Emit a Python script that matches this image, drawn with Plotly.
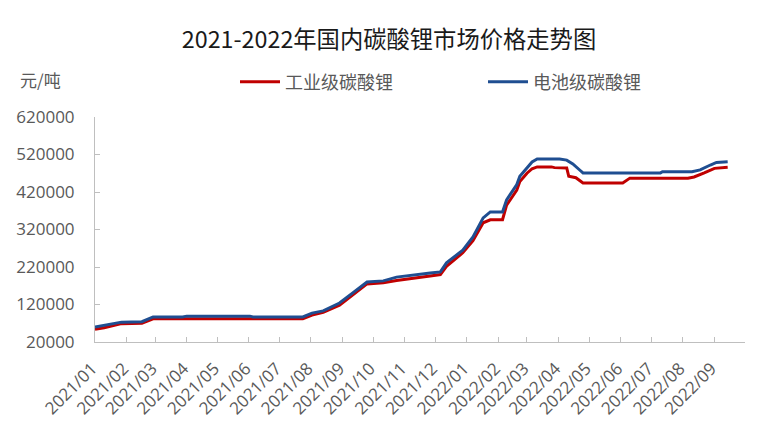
import plotly.graph_objects as go

# ---- data ----
battery_dates = [
    "2021-01-01", "2021-01-10", "2021-01-27", "2021-02-16", "2021-02-22", "2021-02-27",
    "2021-03-28", "2021-04-01", "2021-06-02", "2021-06-05", "2021-07-24", "2021-08-02",
    "2021-08-13", "2021-08-29", "2021-09-11", "2021-09-25", "2021-10-11", "2021-10-24",
    "2021-11-26", "2021-12-06", "2021-12-12", "2021-12-28", "2022-01-07", "2022-01-17",
    "2022-01-24", "2022-02-05", "2022-02-09", "2022-02-19", "2022-02-22", "2022-03-01",
    "2022-03-06", "2022-03-11", "2022-04-02", "2022-04-09", "2022-04-15", "2022-04-22",
    "2022-04-25", "2022-07-10", "2022-07-12", "2022-08-10", "2022-08-18", "2022-08-28",
    "2022-09-03", "2022-09-14",
]
battery_prices = [
    60000, 64000, 73000, 74000, 80000, 86700,
    87000, 89000, 89000, 86700, 87000, 97000,
    103000, 124000, 151000, 180000, 183000, 193000,
    204000, 207000, 231000, 265000, 300000, 351000,
    367000, 367000, 399000, 440000, 462000, 483000,
    500000, 508000, 508000, 505000, 495000, 478000,
    471000, 471000, 474000, 474000, 479000, 492000,
    499000, 501000,
]

industrial_dates = [
    "2021-01-01", "2021-01-10", "2021-01-27", "2021-02-16", "2021-02-27", "2021-07-24",
    "2021-08-02", "2021-08-13", "2021-08-29", "2021-09-11", "2021-09-25", "2021-10-11",
    "2021-10-24", "2021-11-26", "2021-12-06", "2021-12-12", "2021-12-28", "2022-01-07",
    "2022-01-17", "2022-01-24", "2022-02-05", "2022-02-09", "2022-02-19", "2022-02-22",
    "2022-03-01", "2022-03-06", "2022-03-11", "2022-03-25", "2022-03-28", "2022-04-09",
    "2022-04-11", "2022-04-18", "2022-04-25", "2022-06-03", "2022-06-10", "2022-08-06",
    "2022-08-12", "2022-08-22", "2022-09-01", "2022-09-14",
]
industrial_prices = [
    54000, 58000, 69000, 70000, 82000, 82000,
    92000, 99000, 118000, 145000, 175000, 178000,
    184000, 196000, 200000, 222000, 258000, 290000,
    338000, 346000, 346000, 385000, 425000, 448000,
    470000, 482000, 487000, 487000, 485000, 484000,
    462000, 458000, 444000, 444000, 457000, 457000,
    460000, 471000, 483000, 486000,
]

tick_dates = [
    "2021-01-01", "2021-02-01", "2021-03-01", "2021-04-01", "2021-05-01", "2021-06-01",
    "2021-07-01", "2021-08-01", "2021-09-01", "2021-10-01", "2021-11-01", "2021-12-01",
    "2022-01-01", "2022-02-01", "2022-03-01", "2022-04-01", "2022-05-01", "2022-06-01",
    "2022-07-01", "2022-08-01", "2022-09-01", "2022-10-01",
]
tick_labels = [
    "2021/01", "2021/02", "2021/03", "2021/04", "2021/05", "2021/06",
    "2021/07", "2021/08", "2021/09", "2021/10", "2021/11", "2021/12",
    "2022/01", "2022/02", "2022/03", "2022/04", "2022/05", "2022/06",
    "2022/07", "2022/08", "2022/09", "",
]

series_names = ["工业级碳酸锂", "电池级碳酸锂"]
title_text = "2021-2022年国内碳酸锂市场价格走势图"
unit_text = "元/吨"

FONT = "Microsoft YaHei, Noto Sans CJK SC, sans-serif"
TICKFONT = "Open Sans, Noto Sans CJK SC, sans-serif"
GRAY = "#595959"
AXIS = "#bfbfbf"
OFF = 8  # the page body adds an 8px margin
W, H = 782 - OFF, 442 - OFF


def fx(px):
    return (px - OFF) / W


def fy(py):
    return 1 - (py - OFF) / H


fig = go.Figure()
fig.add_trace(go.Scatter(x=industrial_dates, y=industrial_prices, mode="lines",
                         name=series_names[0], line=dict(color="#C00000", width=3)))
fig.add_trace(go.Scatter(x=battery_dates, y=battery_prices, mode="lines",
                         name=series_names[1], line=dict(color="#1F4E91", width=3)))

fig.update_layout(
    width=W, height=H,
    margin=dict(l=0, r=0, t=0, b=0),
    paper_bgcolor="white", plot_bgcolor="white",
    font=dict(family=FONT, color=GRAY),
    title=dict(text=title_text, x=fx(389), xanchor="center", y=fy(40), yanchor="middle",
               font=dict(family=FONT, size=23.3, color="#1a1a1a")),
    showlegend=True,
    legend=dict(orientation="h", x=fx(235), xanchor="left", y=fy(82),
                yanchor="middle", font=dict(family=FONT, size=18, color=GRAY),
                itemwidth=40, entrywidth=193, entrywidthmode="pixels",
                bgcolor="rgba(0,0,0,0)"),
    annotations=[dict(text=unit_text, xref="paper", yref="paper", x=fx(40),
                      xanchor="center", y=fy(80), yanchor="middle", showarrow=False,
                      font=dict(family=FONT, size=17, color=GRAY))],
)

fig.update_xaxes(
    type="date", range=["2021-01-01", "2022-10-01"], automargin=False,
    domain=[fx(95), fx(745)],
    tickmode="array", tickvals=tick_dates, ticktext=tick_labels, tickangle=-45,
    ticklabelstandoff=9, ticklabelshift=-3,
    ticks="inside", ticklen=5, tickcolor=AXIS, showline=True, linecolor=AXIS, linewidth=1,
    showgrid=False, zeroline=False, tickfont=dict(family=TICKFONT, size=17, color=GRAY),
)
fig.update_yaxes(
    range=[20000, 620000], tick0=20000, dtick=100000, tickformat="d", automargin=False,
    domain=[fy(342), fy(117)],
    ticks="inside", ticklen=5, tickcolor=AXIS, showline=True, linecolor=AXIS, linewidth=1,
    ticklabelstandoff=16,
    showgrid=False, zeroline=False, tickfont=dict(family=TICKFONT, size=17, color=GRAY),
)

fig.write_html("out.html")
